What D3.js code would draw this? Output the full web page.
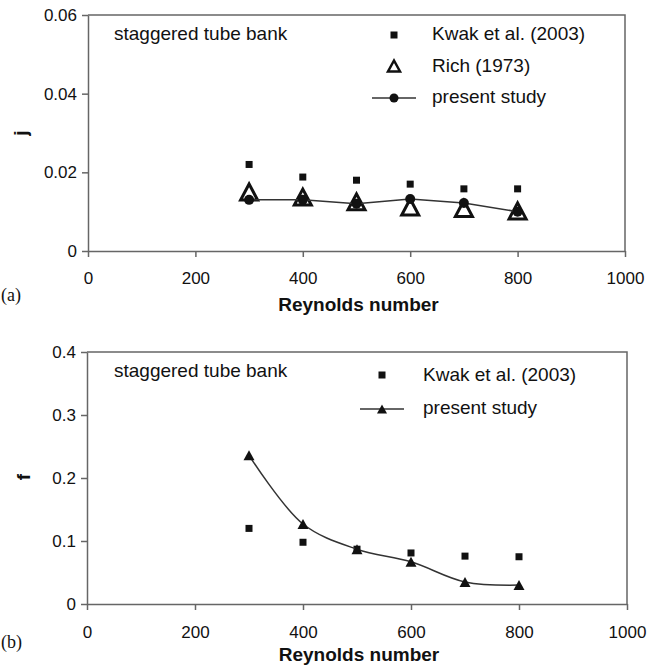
<!DOCTYPE html>
<html>
<head>
<meta charset="utf-8">
<script src="https://cdn.jsdelivr.net/npm/d3@7"></script>
<style>
  body { margin: 0; background: #fff; }
  text { font-family: "Liberation Sans", Arial, sans-serif; fill: #111; }
</style>
</head>
<body>
<div id="chart"></div>
<script>
const width = 652
const height = 667

// data
const reynolds = [300, 400, 500, 600, 700, 800]
const kwakJ = [0.022, 0.0188, 0.018, 0.017, 0.0158, 0.0158]
const richJ = [0.015, 0.0137, 0.0125, 0.0112, 0.0108, 0.0102]
const presentJ = [0.013, 0.013, 0.012, 0.0132, 0.0122, 0.0100]
const kwakF = [0.12, 0.098, 0.087, 0.081, 0.076, 0.075]
const presentF = [0.236, 0.127, 0.087, 0.067, 0.035, 0.030]

const xTicks = [0, 200, 400, 600, 800, 1000]
const jTicks = [0, 0.02, 0.04, 0.06]
const fTicks = [0, 0.1, 0.2, 0.3, 0.4]

const svg = d3.select("#chart")
    .append("svg")
    .attr("width", width)
    .attr("height", height)

const axisColor = "#666"
const lineColor = "#333"

function tri(w, h) {
    return `M0,${-h / 2}L${w / 2},${h / 2}L${-w / 2},${h / 2}Z`
}

function panel(opt) {
    const x = d3.scaleLinear().domain([0, 1000]).range(opt.xr)
    const y = d3.scaleLinear().domain(opt.yd).range(opt.yr)
    const g = svg.append("g")

    // frame (top and right)
    g.append("path")
        .attr("d", `M${opt.xr[0]},${opt.yr[1]}H${opt.xr[1]}V${opt.yr[0]}`)
        .attr("fill", "none")
        .attr("stroke", axisColor)
        .attr("stroke-width", 1.5)

    const ax = g.append("g")
        .attr("transform", `translate(0,${opt.yr[0]})`)
        .call(d3.axisBottom(x).tickValues(xTicks).tickSize(6).tickPadding(opt.xPad).tickSizeOuter(0)
            .tickFormat(d3.format("d")))
    const ay = g.append("g")
        .attr("transform", `translate(${opt.xr[0]},0)`)
        .call(d3.axisLeft(y).tickValues(opt.yTicks).tickSize(6).tickPadding(5).tickSizeOuter(0)
            .tickFormat(d => d === 0 ? "0" : d3.format(opt.fmt)(d)))
    for (const a of [ax, ay]) {
        a.select(".domain").attr("stroke", axisColor).attr("stroke-width", 1.5)
        a.selectAll(".tick line").attr("stroke", axisColor).attr("stroke-width", 1.5)
        a.selectAll(".tick text").attr("font-size", 17).attr("fill", "#111")
    }

    g.append("text")
        .attr("x", (opt.xr[0] + opt.xr[1]) / 2 + 2)
        .attr("y", opt.xLabelY)
        .attr("text-anchor", "middle")
        .attr("font-weight", "bold")
        .attr("font-size", 19)
        .text("Reynolds number")

    g.append("text")
        .attr("transform", `translate(${opt.yLabelX},${opt.yLabelY}) rotate(-90)`)
        .attr("text-anchor", "middle")
        .attr("font-weight", "bold")
        .attr("font-size", 19)
        .text(opt.yLabel)

    g.append("text")
        .attr("x", 1)
        .attr("y", opt.tagY)
        .attr("font-size", 18)
        .style("font-family", "'Liberation Serif', 'Times New Roman', serif")
        .text(opt.tag)

    g.append("text")
        .attr("x", 114)
        .attr("y", opt.noteY)
        .attr("font-size", 19)
        .text("staggered tube bank")

    return { g, x, y }
}

// ---- (a) j factor ----
const a = panel({
    xr: [88, 625], yd: [0, 0.06], yr: [251, 15], yTicks: jTicks, fmt: ".2f",
    xPad: 15, xLabelY: 311, yLabelX: 27, yLabelY: 133, yLabel: "j",
    tag: "(a)", tagY: 301, noteY: 40
})

a.g.selectAll(".kwakj")
    .data(reynolds)
    .enter()
    .append("rect")
    .attr("x", (d, i) => a.x(d) - 3.5)
    .attr("y", (d, i) => a.y(kwakJ[i]) - 3.5)
    .attr("width", 7)
    .attr("height", 7)
    .attr("fill", "#111")

a.g.selectAll(".rich")
    .data(reynolds)
    .enter()
    .append("path")
    .attr("d", tri(17, 16))
    .attr("transform", (d, i) => `translate(${a.x(d)},${a.y(richJ[i])})`)
    .attr("fill", "#fff")
    .attr("stroke", "#111")
    .attr("stroke-width", 3)
    .attr("stroke-linejoin", "miter")

a.g.append("path")
    .datum(reynolds)
    .attr("d", d3.line().x(d => a.x(d)).y((d, i) => a.y(presentJ[i])))
    .attr("fill", "none")
    .attr("stroke", lineColor)
    .attr("stroke-width", 1.5)

a.g.selectAll(".presj")
    .data(reynolds)
    .enter()
    .append("circle")
    .attr("cx", d => a.x(d))
    .attr("cy", (d, i) => a.y(presentJ[i]))
    .attr("r", 5)
    .attr("fill", "#111")

// legend (a)
const la = a.g.append("g")
la.append("rect").attr("x", 390.5).attr("y", 31.5).attr("width", 7).attr("height", 7).attr("fill", "#111")
la.append("path").attr("d", tri(12, 11)).attr("transform", "translate(394,66)")
    .attr("fill", "#fff").attr("stroke", "#111").attr("stroke-width", 2.5)
la.append("line").attr("x1", 372).attr("x2", 416).attr("y1", 98).attr("y2", 98)
    .attr("stroke", lineColor).attr("stroke-width", 1.5)
la.append("circle").attr("cx", 394).attr("cy", 98).attr("r", 4.5).attr("fill", "#111")
la.append("text").attr("x", 432).attr("y", 40).attr("font-size", 19).text("Kwak et al. (2003)")
la.append("text").attr("x", 432).attr("y", 72).attr("font-size", 19).text("Rich (1973)")
la.append("text").attr("x", 432).attr("y", 103).attr("font-size", 19).text("present study")

// ---- (b) f factor ----
const b = panel({
    xr: [87, 627], yd: [0, 0.4], yr: [604, 352], yTicks: fTicks, fmt: ".1f",
    xPad: 16, xLabelY: 661, yLabelX: 30, yLabelY: 477, yLabel: "f",
    tag: "(b)", tagY: 648, noteY: 377
})

b.g.selectAll(".kwakf")
    .data(reynolds)
    .enter()
    .append("rect")
    .attr("x", d => b.x(d) - 3.5)
    .attr("y", (d, i) => b.y(kwakF[i]) - 3.5)
    .attr("width", 7)
    .attr("height", 7)
    .attr("fill", "#111")

b.g.append("path")
    .datum(reynolds)
    .attr("d", d3.line().curve(d3.curveCatmullRom.alpha(0.5)).x(d => b.x(d)).y((d, i) => b.y(presentF[i])))
    .attr("fill", "none")
    .attr("stroke", lineColor)
    .attr("stroke-width", 1.5)

b.g.selectAll(".presf")
    .data(reynolds)
    .enter()
    .append("path")
    .attr("d", tri(11, 10))
    .attr("transform", (d, i) => `translate(${b.x(d)},${b.y(presentF[i])})`)
    .attr("fill", "#111")

// legend (b)
const lb = b.g.append("g")
lb.append("rect").attr("x", 378.5).attr("y", 371.5).attr("width", 7).attr("height", 7).attr("fill", "#111")
lb.append("line").attr("x1", 360).attr("x2", 404).attr("y1", 409).attr("y2", 409)
    .attr("stroke", lineColor).attr("stroke-width", 1.5)
lb.append("path").attr("d", tri(10, 9)).attr("transform", "translate(382,409)").attr("fill", "#111")
lb.append("text").attr("x", 423).attr("y", 381).attr("font-size", 19).text("Kwak et al. (2003)")
lb.append("text").attr("x", 423).attr("y", 414).attr("font-size", 19).text("present study")
</script>
</body>
</html>
